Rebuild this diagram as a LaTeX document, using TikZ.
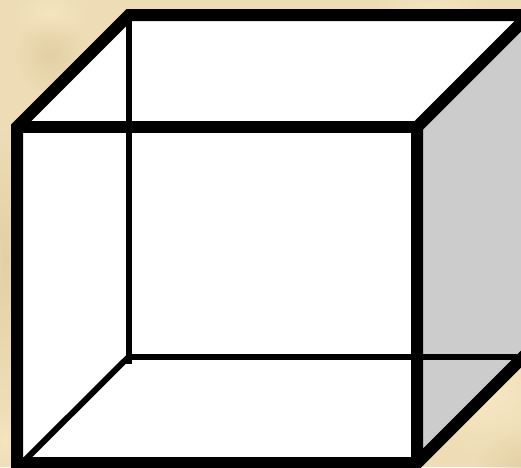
\documentclass[tikz,border=0pt]{standalone}
\usepackage{xcolor}
\usetikzlibrary{fadings}

\definecolor{paper}{HTML}{EDDCB5}
\definecolor{paperdark}{HTML}{E0CA9E}
\definecolor{paperlight}{HTML}{F8E8C4}
\definecolor{sideface}{HTML}{CCCCCC}
\tikzfading[name=softspot, inner color=transparent!0, outer color=transparent!100]

\begin{document}
\begin{tikzpicture}[
    x=1pt, y=-1pt,
    thickedge/.style={draw=black, line width=12pt, line cap=butt},
    thinedge/.style={draw=black, line width=6pt, line cap=butt},
    blob/.style={fill=#1, path fading=softspot, fill opacity=0.7}
]

\useasboundingbox (0,0) rectangle (521,467);
\clip (0,0) rectangle (521,467);

% Parchment background
\fill[paper] (0,0) rectangle (521,467);
\fill[blob=paperlight] (50,15) ellipse (40 and 30);
\fill[blob=paperdark] (50,55) ellipse (35 and 40);
\fill[blob=paperdark] (5,260) ellipse (25 and 130);
\fill[blob=paperlight] (5,440) ellipse (25 and 40);
\fill[blob=paperlight] (430,5) ellipse (60 and 12);
\fill[blob=paperlight] (480,390) ellipse (90 and 70);
\fill[blob=paperlight] (480,390) ellipse (70 and 50);
\fill[blob=paperdark] (525,470) ellipse (50 and 40);

% Cube corners
\coordinate (ftl) at (17,127);
\coordinate (ftr) at (417,127);
\coordinate (fbl) at (17,463);
\coordinate (fbr) at (417,463);
\coordinate (btl) at (129,15);
\coordinate (btr) at (529,15);
\coordinate (bbl) at (129,356.5);
\coordinate (bbr) at (529,356.5);
\coordinate (bbs) at (129,364);
\coordinate (dgl) at (17,468);
\coordinate (dgr) at (529,351);

% Faces
\fill[white] (ftl) -- (btl) -- (btr) -- (ftr) -- (fbr) -- (fbl) -- cycle;
\fill[sideface] (ftr) -- (btr) -- (dgr) -- (fbr) -- cycle;

% Back edges
\draw[thinedge] (btl) -- (bbs);
\draw[thinedge] (bbl) -- (bbr);
\draw[thinedge] (bbl) -- (dgl);

% Front edges
\draw[thickedge] (btr) -- (btl) -- (ftl) -- (fbl) -- (fbr);
\draw[thickedge] (ftl) -- (ftr);
\draw[thickedge] (btr) -- (ftr) -- (fbr) -- (dgr);

\end{tikzpicture}
\end{document}
